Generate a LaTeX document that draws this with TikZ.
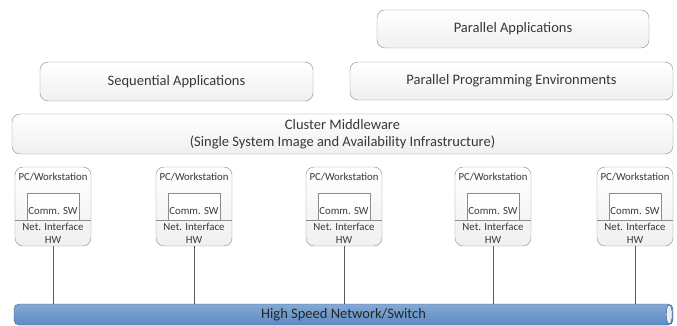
\documentclass[tikz,border=0pt]{standalone}
\usepackage{fontspec}
\setmainfont{Carlito}
\usetikzlibrary{positioning}
\definecolor{edgegray}{HTML}{8C8C8C}
\definecolor{textgray}{HTML}{383838}
\definecolor{netblue}{HTML}{5B8CC4}

\begin{document}
\begin{tikzpicture}[
            x=1pt, y=-1pt,
            layer/.style={rectangle, draw=edgegray, top color=white, bottom color=gray!12, rounded corners=8pt, text=textgray, font=\fontsize{14.5}{16}\selectfont, align=center},
            pcbox/.style={rectangle, draw=edgegray, top color=white, bottom color=gray!12, rounded corners=8pt, minimum width=76pt, minimum height=79pt},
            swbox/.style={rectangle, draw=edgegray, fill=white, minimum width=52pt, minimum height=27pt, inner sep=0pt},
            small/.style={text=textgray, font=\fontsize{10.8}{13}\selectfont, inner sep=0pt},
            netbar/.style={rectangle, draw=netblue!65!black, top color=netblue!75!white, bottom color=netblue, rounded corners=5pt, text=black!85, font=\fontsize{14.5}{16}\selectfont},
            link/.style={draw=black!65, semithick}
        ]
        \useasboundingbox (0,0) rectangle (677,326);

        \node[layer, minimum width=272pt, minimum height=38pt] (parapp) at (513,29) {Parallel Applications};
        \node[layer, minimum width=323pt, minimum height=38pt] (paraenv) at (511.5,81) {Parallel Programming Environments};
        \node[layer, minimum width=273pt, minimum height=39pt] (seqapp) at (176.5,81.5) {Sequential Applications};
        \node[layer, minimum width=661pt, minimum height=40pt] (middle) at (342.5,134) {Cluster Middleware\\[1pt](Single System Image and Availability Infrastructure)};

        \node[netbar, minimum width=659pt, minimum height=21pt, inner sep=0pt] (net) at (343.5,314.5) {High Speed Network/Switch};
        \draw[draw=netblue!60!black, fill=netblue!15!white] ([xshift=-4pt]net.east) ellipse [x radius=3pt, y radius=9.5pt];

        \foreach \x [count=\i] in {53,194,344,493,635} {
            \node[pcbox] (pc\i) at (\x,206.5) {};
            \node[small, below=6pt of pc\i.north] (pcname\i) {PC/Workstation};
            \node[swbox] (sw\i) at (\x,206.5) {};
            \node[small, above=5.5pt of sw\i.south] (swname\i) {Comm. SW};
            \draw[edgegray] (pc\i.west |- sw\i.south) -- (pc\i.east |- sw\i.south);
            \node[small, align=center, below=2.5pt of sw\i.south] (nic\i) {Net. Interface\\HW};
            \draw[link] (pc\i.south) -- (pc\i.south |- net.north);
        }
    \end{tikzpicture}
\end{document}
